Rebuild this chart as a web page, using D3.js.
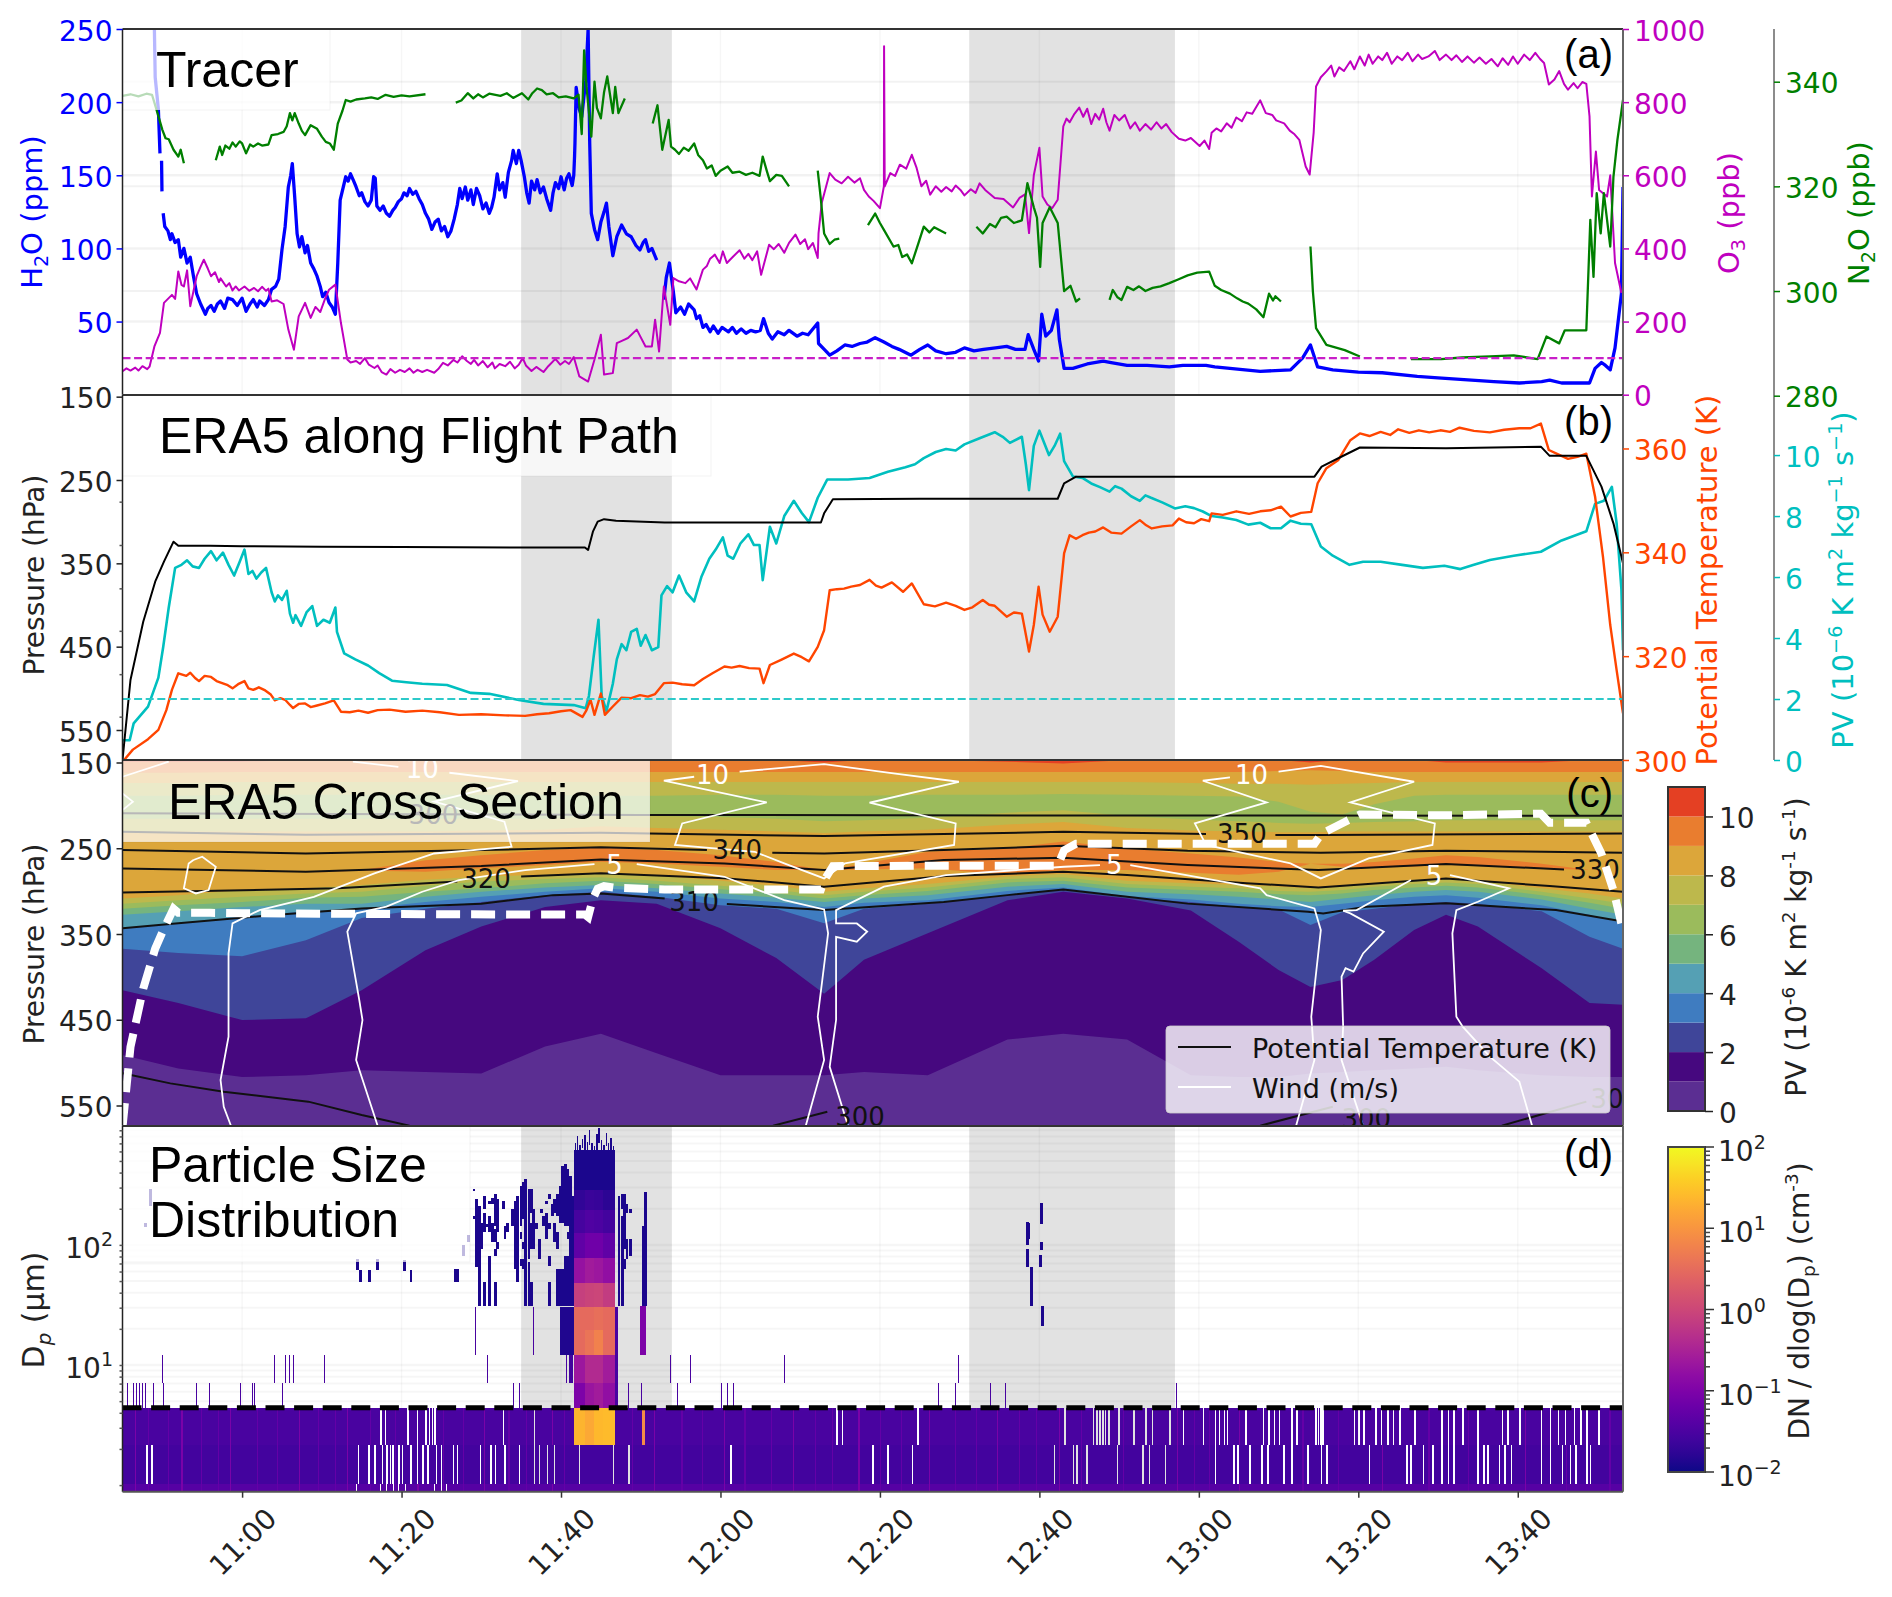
<!DOCTYPE html>
<html>
<head>
<meta charset="utf-8">
<script src="https://cdn.jsdelivr.net/npm/d3@7"></script>
<style>
  body { margin: 0; background: #fff; }
  text { font-family: "DejaVu Sans", sans-serif; }
  .title { font-family: "Liberation Sans", Arial, sans-serif; }
</style>
</head>
<body>
<div class="canvas"></div>
<script>
// time is minutes after 11:00
const xTicks = [0, 20, 40, 60, 80, 100, 120, 140, 160];
const xTickLabels = ["11:00", "11:20", "11:40", "12:00", "12:20", "12:40", "13:00", "13:20", "13:40"];
const shadedSpans = [[35, 53.9], [91.2, 117]];

// panel (a)
const h2oSeries = [[-11,250],[-10.9,217],[-10.5,195],[-10.3,165],[-10.25,null],[-10.1,160],[-10.05,139],[-10,null],[-9.9,124],[-9.7,115],[-9.3,112],[-9,106],[-8.8,110],[-8.4,104],[-8,106],[-7.7,94],[-7.3,100],[-6.9,90],[-6.5,94],[-6.1,81],[-5.7,69],[-5.2,62],[-4.6,55],[-4.3,59],[-3.9,61],[-3.5,57],[-3.1,62],[-2.7,64],[-2.2,59],[-1.8,66],[-1.2,65],[-0.6,61],[0,66],[0.5,57],[1,62],[1.4,65],[1.9,60],[2.2,64],[2.8,61],[3.3,65],[3.7,72],[4.2,74],[4.6,79],[5,99],[5.4,115],[5.8,142],[6.1,150],[6.3,158],[6.6,135],[6.9,110],[7.2,101],[7.5,108],[7.9,97],[8.2,102],[8.6,90],[9,86],[9.4,81],[9.8,74],[10.1,67],[10.5,70],[10.9,63],[11.3,60],[11.7,55],[12,90],[12.3,133],[13,149],[13.3,146],[13.6,151],[14,146],[14.3,142],[14.7,136],[15,138],[15.4,132],[15.8,129],[16.2,133],[16.5,149],[16.7,148],[16.9,129],[17.3,126],[17.7,129],[18.1,124],[18.5,122],[18.9,126],[19.2,128],[19.6,132],[20,134],[20.3,138],[20.7,136],[21,141],[21.4,137],[21.8,139],[22.2,134],[22.6,130],[23,124],[23.4,120],[23.8,113],[24.2,118],[24.6,120],[25,112],[25.4,115],[25.8,108],[26.2,112],[26.6,120],[27,130],[27.3,141],[27.6,134],[28,142],[28.3,133],[28.7,140],[29,130],[29.4,141],[29.8,136],[30.2,127],[30.6,131],[31,124],[31.3,128],[31.6,135],[32,151],[32.3,140],[32.7,145],[33,135],[33.4,152],[33.8,160],[34,167],[34.4,158],[34.7,167],[35,160],[35.4,149],[35.7,138],[36,131],[36.3,146],[36.7,140],[37,147],[37.4,138],[37.8,142],[38.2,134],[38.7,126],[39,138],[39.3,145],[39.7,141],[40,149],[40.4,140],[40.7,148],[41,151],[41.4,143],[41.6,150],[41.7,163],[41.75,172],[41.9,210],[42.3,195],[42.6,190],[43.1,215],[43.4,250],[43.6,172],[43.8,124],[44.2,113],[44.6,106],[45,118],[45.4,125],[45.7,131],[46,115],[46.5,95],[47,108],[47.6,116],[48.2,110],[48.8,108],[49.4,102],[49.9,99],[50.3,104],[50.6,106],[51,98],[51.4,100],[52,92],[52.3,null],[52.9,65],[53.2,80],[53.6,90],[54.1,70],[54.4,56],[55,60],[55.5,55],[56,62],[56.7,58],[57,52],[57.4,54],[57.8,46],[58.2,48],[58.7,43],[59.1,47],[59.7,42],[60.2,46],[61,43],[61.5,46],[62,42],[62.6,45],[63.2,42],[63.8,44],[64.4,43],[65,44],[65.4,52],[66,42],[66.5,38],[67.2,43],[68,41],[68.6,44],[69.6,40],[70.3,42],[71,41],[72.2,49],[72.3,35],[73.2,30],[73.7,27],[74.6,30],[75.6,34],[76.5,33],[77.5,35],[78.4,36],[79.4,39],[80.5,36],[81.5,33],[82.4,31],[83.9,27],[85,31],[86,34],[87,30],[88.3,28],[89.5,29],[90.6,32],[91.8,30],[93,31],[94.5,32],[95.9,33],[97,31],[98.2,31],[98.6,41],[99.3,31],[99.9,23],[100.3,55],[100.8,40],[101.5,44],[102.2,58],[102.5,38],[103.1,18],[104.2,18],[106,21],[108,23],[109,22],[111,20],[113.5,20],[116.3,19],[118,20],[120.9,20],[122,19],[123.9,18],[127.7,16],[131.5,17],[133,25],[134,34],[134.9,19],[136.8,17],[140,15.5],[143,15],[147.4,12.5],[150,11.5],[154.2,10],[157,9],[160.2,8],[163,9],[164,10],[165.5,8],[169,8],[169.7,18],[170.5,22],[171,20],[171.6,17],[172.2,32],[173,69],[173.2,142]];
const o3Series = [[-15,64],[-14.5,72],[-14,66],[-13.4,74],[-13,66],[-12.5,78],[-11.9,70],[-11.6,77],[-11,132],[-10.3,169],[-9.8,251],[-8.8,273],[-8.4,262],[-8,337],[-7.6,300],[-7.3,296],[-6.9,340],[-6.5,242],[-5.7,324],[-5.2,350],[-4.8,369],[-4.3,345],[-3.9,324],[-3.4,335],[-2.9,308],[-2.7,318],[-2,296],[-1.6,305],[-1.2,285],[-0.8,296],[-0.4,285],[0.3,296],[0.9,284],[1.5,292],[2,283],[2.5,295],[3,284],[3.3,290],[3.7,255],[4.4,258],[5.2,248],[5.8,178],[6.5,123],[7.1,214],[7.9,251],[8.6,210],[9.2,240],[9.8,226],[10.4,262],[10.9,287],[11.7,301],[12.4,196],[13.2,96],[13.6,88],[14.3,92],[14.8,84],[15.4,100],[15.9,82],[16.6,73],[17,80],[17.5,62],[18.1,55],[18.6,70],[19.2,60],[19.8,68],[20.4,62],[21,72],[21.5,60],[22,68],[22.6,62],[23.2,68],[24.1,60],[24.6,70],[25.2,87],[25.8,80],[26.5,95],[27,88],[27.6,105],[28.2,92],[28.7,84],[29.1,95],[29.6,80],[30.2,92],[30.8,75],[31.4,88],[31.7,72],[32.3,84],[33,78],[33.6,90],[34.2,72],[34.7,82],[35.2,100],[35.6,80],[36.3,65],[36.9,76],[37.8,62],[38.4,78],[39.3,98],[39.9,82],[40.5,92],[41,84],[41.6,103],[42.3,50],[43.4,36],[44.2,96],[45,164],[45.4,55],[46.5,59],[47,141],[47.7,148],[48.4,155],[49.5,178],[50.6,132],[51.4,132],[51.8,205],[52.3,118],[52.9,296],[53.7,191],[54.1,319],[54.8,310],[55.6,305],[56.2,318],[57,288],[57.8,342],[58.3,352],[58.7,372],[59.3,383],[59.9,360],[60.3,392],[60.8,360],[61.6,378],[62.4,395],[63,372],[63.5,385],[64,368],[64.6,392],[65.1,328],[66.1,410],[66.7,398],[67.3,412],[68,388],[68.6,415],[69.4,438],[70,412],[70.6,425],[71,398],[71.6,415],[72.2,374],[72.3,442],[72.7,524],[73.7,606],[74.4,588],[75.2,578],[76,596],[76.8,580],[77.5,592],[78,560],[78.6,542],[79.2,530],[80,510],[80.5,570],[80.52,953],[80.6,570],[81.3,606],[81.9,598],[82.5,629],[83.3,618],[84,656],[84.6,620],[85.2,570],[85.8,585],[86.3,547],[87,570],[87.7,555],[88.3,568],[89,556],[89.5,572],[90.1,560],[90.6,545],[91.4,562],[92,552],[92.5,578],[93.2,560],[94.4,538],[95.5,535],[96.7,512],[97.5,538],[98.2,548],[98.7,442],[99.3,600],[100,675],[100.4,542],[101,520],[101.6,510],[102.3,533],[103,734],[103.4,755],[103.8,745],[104.4,768],[105,785],[105.5,760],[106,782],[106.5,740],[107,768],[107.5,752],[108,782],[108.4,745],[108.8,722],[109.4,765],[110,750],[110.7,765],[111.4,728],[112,745],[112.6,722],[113.3,740],[114,725],[114.7,745],[115.3,728],[115.9,740],[116.6,718],[117.5,700],[118.3,695],[119,702],[120.1,680],[120.7,695],[121.3,672],[121.6,716],[122.2,728],[122.8,720],[123.5,742],[124.1,730],[124.7,758],[125.4,748],[126,772],[126.7,768],[127.7,805],[128.4,770],[129.2,765],[129.7,750],[130.7,742],[131.4,722],[132,712],[132.6,697],[133.4,624],[133.9,602],[134.4,716],[134.7,843],[135.3,868],[136,884],[136.6,900],[137,870],[137.6,895],[138.2,885],[139,912],[139.5,890],[140.2,925],[140.8,900],[141.3,930],[141.8,905],[142.5,925],[143,915],[143.6,935],[144.2,905],[144.9,925],[145.5,915],[146.2,935],[146.8,912],[147.5,930],[148,918],[148.8,925],[149.6,940],[150.2,915],[151,930],[151.7,915],[152.3,928],[153,910],[153.7,925],[154.5,908],[155.2,922],[156,905],[156.7,918],[157.5,898],[158.1,920],[158.8,902],[159.4,925],[160,905],[160.8,930],[161.5,915],[162.2,935],[162.8,918],[163.3,907],[163.9,848],[164.6,862],[165.2,885],[165.8,850],[166.3,834],[167,852],[167.5,838],[168.1,855],[168.6,850],[169,761],[169.3,542],[169.8,665],[170.2,560],[171.2,542],[171.6,600],[172.2,360],[173,278]];
const n2oSeries = [[-15,337.3],[-14,337.6],[-13,337.2],[-12,337.7],[-11.3,337.5],[-10.8,335],[-10,330.8],[-9.6,329.2],[-9.2,329],[-8.6,327],[-8,325.7],[-7.7,327],[-7.3,324.4],[-7.2,null],[-3.3,325],[-2.8,327.6],[-2.5,326],[-2.1,327.8],[-1.6,327.2],[-1.2,328.4],[-0.8,327.6],[-0.3,328.6],[0,328.2],[0.5,326.3],[1,328],[1.4,327.6],[2,328.2],[2.5,327.8],[3.3,328],[3.7,329.8],[4.5,330],[5.2,330.4],[5.6,331.5],[6,334],[6.3,332.6],[6.6,334],[7.1,332],[7.5,330.6],[7.9,329.8],[8.6,331.7],[9.4,331],[10,329.5],[10.5,328.5],[11,328.2],[11.5,327],[12,332],[12.6,334.5],[13,336.5],[13.6,336.2],[14.3,336.6],[15.4,336.8],[16.2,337],[17,336.7],[18,337.5],[19,337.1],[20,337.4],[21,337.2],[23,337.6],[23.1,null],[26.8,336],[27.5,336.4],[28.3,337.8],[29,336.8],[29.6,337.6],[30.2,337],[31,337.7],[32.4,337.3],[33.2,337.8],[34,336.9],[35.1,337.8],[35.9,336.6],[36.4,337.8],[37,338.7],[37.6,338.4],[38.2,337.6],[39,337.8],[39.7,337],[40.6,337.2],[41.6,336.8],[42.2,337.5],[42.6,330],[42.9,346],[43.2,339],[43.8,329.5],[44.2,340],[44.5,335],[45,333],[45.4,338],[45.8,341],[46.5,334],[46.8,339],[47.2,334],[48,336.8],[48.1,null],[51.5,332],[52.1,335.5],[52.7,327],[53.5,332.7],[53.8,327.6],[54.3,327],[54.8,326.2],[55.4,327.4],[56,326.8],[56.7,328.2],[57.2,326],[57.8,325],[58.3,323.4],[58.9,324],[59.4,322],[60,323],[60.9,323.8],[61.5,322.6],[62.4,322.8],[63.2,322.2],[64,322.6],[64.9,322],[65.3,325.7],[65.8,323],[66.2,321],[67,322.2],[67.7,322],[68.6,320],[68.7,null],[72.2,323],[72.6,317.4],[73,311],[73.7,309],[74.3,309.8],[74.9,310],[75,null],[78.5,312.6],[79.4,314.8],[80,313],[80.5,311.7],[81.7,308.5],[82.3,308.8],[82.8,306.5],[83.4,307],[84,305.3],[84.8,309],[85.5,312.3],[86.2,311.2],[86.8,312.2],[88.3,311],[88.4,null],[92.1,312.3],[92.9,311],[93.8,312.8],[94.5,312.2],[95.2,314],[95.9,314.2],[96.8,313],[97.8,313.5],[98.5,320.6],[99.3,316],[99.7,314],[100.1,304.6],[100.4,313],[101.3,316],[102.3,313],[103.1,300],[103.9,301],[104.6,298],[105.1,298.6],[105.2,null],[108.8,298.3],[109.2,300.2],[109.8,298.8],[110.3,298.3],[111,300.8],[111.8,300.2],[112.5,300.9],[113.3,300],[114.2,300.6],[115.2,300.9],[116.3,301.5],[117.4,302.2],[118.6,303],[119.8,303.5],[121.3,303.7],[122,301],[122.8,300.2],[123.9,299.5],[124.8,298.6],[125.5,298],[126.2,297.6],[127.2,296.5],[128.1,295],[128.8,299.5],[129.3,298.2],[129.6,299],[130.3,298],[130.4,null],[134,308.5],[134.3,300],[134.7,292.9],[136,289.7],[138.3,288.7],[140.2,287.5],[140.3,null],[146.6,287],[150.4,287],[153,287.3],[156.5,287.5],[159.5,287.7],[162.5,287],[163.6,291.3],[165.2,290],[165.9,292.5],[168.6,292.5],[169.1,313.6],[169.5,302.7],[169.9,318.7],[170.4,311],[170.8,318.7],[171.6,308.5],[172,321.8],[172.5,328.9],[173.2,336.5]];
const o3Reference = 100;

// panel (b)
const pressureSeries = [[-15,586],[-14,490],[-12.4,420],[-10.9,372],[-9.8,348],[-8.6,324],[-8,329],[-4,329],[0,329.5],[10,330],[20,330.5],[35,331],[43,331],[43.4,334],[44,312],[44.6,300],[45.4,297],[46.9,299],[53,301],[65,301],[72.6,301],[73,290],[74.1,273],[85,272.5],[102.3,272.5],[103.1,254],[104.6,246],[134.5,246],[135.4,234],[138.3,220],[140.2,211],[151,212],[162.9,210],[164,221],[168.6,221],[170.5,258],[172,302],[173.2,350]];
const thetaSeries = [[-14.8,300],[-13.7,302],[-11.8,304],[-10.5,305.8],[-9.5,309.6],[-8.8,313.5],[-8,316.7],[-7,316.2],[-6.5,316.8],[-5.9,315.8],[-5.4,315.2],[-4.7,316.2],[-3.9,316],[-3.2,315.2],[-2.5,314.8],[-1.8,314.4],[-1.2,313.8],[-0.5,314.6],[0.3,315.2],[0.8,313.8],[1.4,313.5],[2.1,314],[2.9,313.4],[3.6,312.6],[4.1,311.5],[4.8,311.9],[5.4,311.6],[6,310.6],[6.4,310],[7.1,310.8],[7.9,310.9],[8.6,310.2],[9.4,310.5],[10.4,310.9],[11.5,311.5],[12.4,309.3],[13.5,309.2],[14.6,309.5],[15.8,309.1],[17,309.6],[18.5,309.7],[20.5,309.3],[22.6,309.5],[24.8,309.2],[27.2,308.7],[30,308.8],[33,308.6],[35.5,308.5],[37,308.8],[38.5,309],[40,309.4],[41.2,309.6],[42.7,308.3],[43.2,309.6],[43.7,311.6],[44.2,308.7],[45,312.8],[45.5,308.7],[46.5,310.3],[47.6,312],[48.8,311.9],[49.9,312.5],[50.9,312.2],[51.8,312.7],[52.9,314.8],[54,314.9],[55.2,314.6],[56.7,314.4],[57.8,315.6],[59,316.7],[60.5,318],[61.4,317.8],[62.4,318.1],[63.6,317.7],[64.9,317.6],[65.4,314.8],[66.2,318.3],[67.6,319.3],[69.2,320.5],[70.2,319.8],[71.1,319],[72.2,321.8],[73,325],[73.7,332.7],[74.6,332.9],[75.5,333],[76.4,333.4],[77.5,333.7],[78.7,334.7],[79.5,333.6],[80.2,333.2],[81.5,334.2],[82.9,332.4],[84,334],[85.5,330],[86.9,329.6],[88.3,330.3],[89.5,329.7],[90.6,328.9],[91.6,329.4],[92.9,330.8],[93.7,329.9],[94.4,329.7],[95.9,327.6],[96.8,328.4],[97.8,328.2],[98.2,325],[98.7,320.9],[99.3,326],[99.9,333.4],[100.4,328],[101.3,324.7],[102.3,327.6],[103.1,339.8],[103.8,343.3],[104.6,342.6],[105.4,343.3],[106.2,343.8],[107,344],[108,344.8],[109,343.8],[110.3,343.6],[111.5,345],[112.6,346.2],[113.4,345.2],[114.1,344.6],[115.4,345],[116.7,345.2],[117.5,346.5],[118.4,345.8],[119.4,345.6],[120.3,346.4],[121.3,346],[121.6,347.5],[123,347.2],[124.7,347.9],[126.3,347.4],[127.7,347.9],[129,348.1],[130.3,348.8],[131.5,346.9],[132.8,347.6],[134.1,347.8],[134.9,353.3],[136,356.2],[137.5,357.8],[139,361.6],[140.2,362.9],[141.4,362.4],[142.8,363.2],[144,362.6],[145,363.7],[146.4,363],[147.6,363.5],[148.9,363.1],[150.3,363.5],[151.5,363.2],[152.7,364],[154.5,363.4],[156.5,363.1],[158.3,363.6],[160.2,363.9],[161.6,363.9],[162.9,364.8],[163.9,359.7],[165,358.9],[166.3,358],[167.5,358.4],[168.6,359],[169.7,350.7],[170.7,339],[171.6,326],[172.4,317.3],[173.2,309]];
const pvSeries = [[-15,0.65],[-14.1,0.65],[-13.6,1.2],[-11.8,1.75],[-10.5,2.7],[-9.9,3.7],[-9.2,5],[-8.4,6.3],[-7.6,6.4],[-6.9,6.55],[-6.2,6.35],[-5.4,6.3],[-4.7,6.6],[-3.9,6.85],[-3.2,6.55],[-2.4,6.8],[-1.7,6.4],[-1,6.05],[-0.3,6.5],[0.3,6.9],[0.8,6.1],[1.3,6.2],[1.8,5.95],[2.4,6.15],[3,6.3],[3.7,5.5],[4.1,5.2],[4.5,5.4],[5,5.25],[5.6,5.55],[6,4.8],[6.4,4.5],[6.7,4.75],[7.4,4.4],[8.1,4.85],[8.8,5.05],[9.4,4.4],[10.2,4.6],[11,4.5],[11.7,5],[11.9,4.2],[12.8,3.5],[14.2,3.3],[15.8,3.1],[17.2,2.85],[18.8,2.6],[20.6,2.55],[22.6,2.5],[25.7,2.46],[28.7,2.2],[31,2.17],[34.7,1.97],[37.8,1.84],[41.6,1.8],[43.1,1.7],[43.5,2.1],[44.1,3.4],[44.7,4.6],[45.1,2.1],[45.7,1.6],[46.5,2.5],[47,3.3],[47.6,3.8],[48.2,3.6],[48.8,4.2],[49.5,4.3],[50,3.75],[50.6,4.1],[51.4,3.6],[52.2,3.7],[52.6,5.4],[53.3,5.7],[54,5.5],[54.8,6.05],[55.7,5.5],[56.7,5.2],[57.6,6],[58.6,6.6],[59.4,6.9],[60.3,7.3],[60.9,6.7],[61.6,6.6],[62.5,7.1],[63.5,7.4],[64.2,7.05],[64.9,7.05],[65.3,5.9],[66.2,7.65],[67,7.1],[68,8],[69.2,8.5],[70.2,8.1],[71.1,7.8],[72.2,8.6],[73.4,9.2],[76,9.2],[78.7,9.25],[81,9.45],[83.2,9.6],[84.4,9.7],[85.5,9.9],[87,10.1],[88.3,10.2],[89.5,10.15],[90.6,10.35],[92.5,10.55],[94.4,10.75],[95.4,10.6],[96.3,10.4],[97.8,10.6],[98.3,9.7],[98.7,8.85],[99.3,10.3],[100,10.8],[101.2,10],[101.9,10.3],[102.6,10.7],[103.1,9.8],[104.2,9.3],[105.4,9.25],[106.5,9.07],[107.6,8.95],[108.8,8.8],[109.5,8.98],[110.3,8.9],[111.5,8.65],[112.6,8.5],[113.3,8.68],[114,8.6],[115.4,8.45],[117,8.25],[118.3,8.32],[119.4,8.26],[120.5,8.15],[121.6,8],[123,7.95],[124.7,7.87],[126.2,7.72],[127.7,7.78],[129,7.6],[130.3,7.6],[131.5,7.85],[132.8,7.75],[134.1,7.73],[135.3,7],[136.8,6.7],[138.9,6.4],[140.6,6.5],[142.8,6.5],[145.5,6.4],[148.1,6.3],[150.8,6.37],[152.8,6.26],[154.5,6.4],[156.5,6.56],[159.5,6.7],[162.9,6.83],[165.5,7.2],[168.6,7.5],[169.7,8.4],[170.8,8.5],[171.8,8.96],[172.4,7.76],[173,5.6],[173.2,3.6]];
const pvReference = 2;
const pressureLabels = [150, 250, 350, 450, 550];
const pressureMinorB = [276, 328, 380, 431, 483, 534];

// panel (c), filled PV bands, hPa of each band edge at these times
const sectionTimes = [-15,-8,0,8,15,23,30,38,45,52,60,67,73,78,86,96,103,111,119,125,130,134,138,142,147,151,155,163,169,173.2];
const pvColors = ["#5b2e92","#46087f","#3f4599","#3f7cc0","#55a0b4","#75b47e","#9bbb5c","#bdb84c","#dca63a","#e97d2f","#e44023"];
const edgeRed = [146,146,146,144,144,144,144,144,144,144,144,144,147,144,144,146,148,144,144,144,144,147,144,144,144,147,147,147,144,144];
const edgeOrange = [159,159,158,158,158,158,158,158,158,158,158,158,158,158,158,158,158,158,158,158,157,156,157,158,158,158,158,158,158,158];
const edgeGold = [171,171,170,170,170,170,170,170,170,170,170,170,170,170,170,170,170,170,171,172,172,173,172,171,170,170,170,170,170,170];
const edgeOlive = [186,186,185,185,185,185,185,185,186,186,185,185,186,186,185,185,184,185,186,187,193,205,208,196,186,185,185,185,185,185];
const edgeGreen = [213,213,213,213,213,213,213,213,210,210,211,213,216,215,212,206,203,210,214,216,218,219,218,217,216,215,215,215,215,215];
const edgeOlive2 = [228,228,228,228,228,228,227,226,222,224,226,228,230,228,226,220,217,224,227,228,229,229,228,228,228,228,228,228,228,228];
const lensTop = [277,277,277,277,273.5,262,256,250,247,250,256,264,273.5,266,252,248,240,248,254,258.6,264,266,266,264,260,256,258,266,273.5,273.5];
const lensBottom = [277,277,277,277,274,275.5,271.5,267.6,263.7,265.7,269.6,273.5,273.5,272.7,271.5,279,273.5,273.5,276.6,279,275.5,266,269.6,270.4,269.6,267.6,268.8,271.5,273.5,273.5];
const edge8 = [307,303,297,295,291,285,281,279,277,280,286,292,299,295,290,281,278,286,289,291,293,295,293,289,285,284,286,295,301,307];
const edge7 = [313,309,305,301,299,292,287,284,282,286,292,297,303,299,294,284,282,290,293,295,298,299,297,293,290,288,290,299,307,313];
const edge6 = [319,315,311,306,305,299,295,289,286,290,296,301,307,303,298,288,286,294,297,299,302,303,301,297,294,292,294,303,312,319];
const edge5 = [326,322,317,313,313,305,299,294,291,295,301,306,311,307,303,293,290,299,302,305,308,311,307,303,299,297,299,308,319,326];
const edge4 = [342,336,328,322,319,311,305,299,295,299,307,311,317,312,309,298,294,304,308,313,316,317,313,309,305,303,306,315,326,336];
const edge3 = [366,371,375,356,330,319,311,303,299,305,315,319,336,319,313,303,297,306,311,317,320,338,323,319,313,311,313,322,352,366];
const edge2 = [415,430,450,448,415,368,340,317,309,313,342,377,419,379,348,309,299,307,321,358,391,411,403,379,344,326,340,389,430,432];
const edge1 = [491,507,517,515,509,511,513,481,466,489,515,515,515,511,515,473,466,473,515,517,517,513,511,509,507,505,509,515,517,517];
// bands painted top down: [edge, PV level of what lies below it]
const bandOrder = [[edgeRed,9],[edgeOrange,8],[edgeGold,7],[edgeOlive,6],[edgeGreen,7],[edgeOlive2,8],[edge8,7],[edge7,6],[edge6,5],[edge5,4],[edge4,3],[edge3,2],[edge2,1],[edge1,0]];

const thetaContours = [
  [[-15,342],[-8,336],[4,326.5],[15,318.6],[30,313],[39,303],[45,301],[53,307],[53.6,null],[60.8,313.5],[73,320.6],[88,311],[96,303],[103,296.3],[111,305],[118.6,313],[133.7,322.5],[135.6,324.5],[141,316.6],[151,312.7],[164.8,320.6],[173.2,334]],
  [[-15,299.8],[12,295],[27,287],[27.5,null],[35,281],[45,277.4],[60.5,283],[73,293],[88.3,280.6],[103,275.5],[111,279.4],[126,289],[135,293.9],[151,283.3],[164,292.3],[173.2,299]],
  [[-15,271.6],[8,275.5],[30,268.8],[45,261],[60.5,265.7],[73,273.5],[88,261.7],[103,259],[118.6,267.6],[135,273.5],[151,266.4],[165.8,272.7]],
  [[-15,250],[8,254],[30,250],[45,246.8],[58.3,250],[58.5,null],[66.5,253],[73,254],[88,250],[103,245],[118.6,250.8],[135.3,253],[151,250.8],[173.2,253]],
  [[-15,228.4],[8,232],[45,229.6],[73,233.5],[88,231.2],[103,228.4],[120.9,231.2],[121,null],[129.6,232.3],[135.3,232.3],[173.2,230.4]],
  [[-15,206.8],[50,208.7],[100,209.2],[173.2,209.6]],
  [[-15,512.7],[-9,524.5],[-2.3,534.3],[8.3,546],[15,561.8],[21,574.3]],
  [[66.6,574.3],[73.4,557.8]],
  [[127.7,574.3],[136.8,552]],
  [[158,574.3],[168.6,546]]
];
const windContours = [
  [[-15,163.7],[-9.2,146]],
  [[13.9,146],[19.6,152]],
  [[26,159],[34.6,168.8],[24.1,193],[32.9,216.6],[33.8,246],[24.1,254],[16.6,277.4],[9,305],[2.2,320.6],[-1.2,336.2],[-1.7,371.6],[-1.7,469.6],[-2.7,520.6],[-2.3,552],[-1.4,574.3]],
  [[-15,183.3],[-13.7,193],[-15,203]],
  [[-6.1,261.7],[-5,257.8],[-3.3,269.6],[-4.2,297],[-5.8,301],[-7.3,295],[-6.7,265.7],[-6.1,261.7]],
  [[62.4,157.8],[73,148.8],[81.7,159.8],[89.9,169.6],[78.7,194.3],[89.5,218.6],[89.3,244],[75.6,265.7],[73,283.3],[68,265.7],[64.3,252],[54.3,244],[55.2,218.6],[65.8,193.9],[52.9,168.4],[56.7,163.7]],
  [[70.7,574.3],[73,497],[72.2,446],[73.5,348],[73,319.8],[68,308.8],[60.5,281.4],[49.5,266.5]],
  [[44.2,266.5],[35.5,273.5],[27.2,285.3],[22.6,299],[18.1,316.6],[14.3,324.5],[13.2,346],[14.7,426.5],[15.1,450],[14.3,497],[17,574.3]],
  [[132.2,574.3],[134.5,497],[134.1,446],[135.3,344],[134.5,318.6],[128.5,303],[127.7,295],[111.4,267.6]],
  [[107.6,267.6],[103.1,269.6],[88.3,279.4],[80.5,293],[74.5,320.6],[74.5,336.3],[77.1,336.3],[78.4,346],[77.1,357.8],[74.5,352],[74.5,450],[73.7,505],[76,574.3]],
  [[138.1,321.4],[139.8,320.6],[146.6,285.3]],
  [[151.5,279.4],[158.9,295],[155,310.8],[152.3,320.6],[151.8,348],[152.3,446],[153.1,457.8],[156.5,493],[160.2,522.5],[161.8,574.3]],
  [[138.1,321.4],[139,324.5],[143.2,346],[140.6,371.6],[139.4,393],[138.4,389],[137.9,399],[138.1,457.8],[137.9,497],[140.6,574.3]],
  [[130,157.8],[135.3,151],[147,169.6],[139,193.9],[149.6,218.6],[149.3,244],[141.3,259.8],[135.3,283.3],[131.5,265.7],[120.9,244],[119.5,218.6],[128.5,193.9],[120.5,168.4],[123.9,164.5]]
];
const windLabels = [[22.6,154,"10"],[59,161.7,"10"],[126.6,161.7,"10"],[46.7,267.6,"5"],[109.4,267.6,"5"],[149.5,280.6,"5"]];
const thetaLabels = [[56.7,310.8,"310"],[30.6,283.3,"320"],[62.1,250,"340"],[125.4,231.2,"350"],[169.7,272.7,"330"],[24,208.8,"300"],[77.5,563.7,"300"],[141,565.7,"300"],[171.2,542,"30"]];

// panel (d), size bin edges in um and counts
const sizeEdges = [0.881,1.03,2.15,4.35,7.03,12.1,19.6,30.6,47.9,77.4,125,195,287,620];
const dashedSize = 4.4;
const rowBase = [0.04,0.026,0.03];
const gapsRow0 = [14.3,17.3,18.1,18.9,19.6,20.4,21.5,24.1,24.9,25.6];
const gapsRow1 = [-12,-11.4,14.5,15.8,16.6,17.5,18.1,18.5,18.8,19.6,20,21.1,21.9,22.6,23.2,24.3,24.9,26.4,26.9,29.8,31.1,31.7,32.9,34.7,36.6,37.2,38.2,39.1,42.2,46.5,48.4,61.2,79,80.9,84,101.8,104.2,104.6,105.9,109.7,112.9,113.7,115.7,122,124.3,124.8,126.3,127.8,128.6,130.6,131.6,133.6,135.3,136,141.3,146,146.5,148.1,149.3,150.4,151.2,151.9,154.9,155.7,156.2,157.6,158.3,159.1,162.9,164,165.5,166.5,167.2,168.6,169];
const gapsRow2 = [17.3,17.9,20.7,21.9,23,23.4,23.8,24.1,32.7,36.6,74.5,75.2,84.7,103.1,106.7,107.1,107.5,107.9,108.2,108.6,109.9,111.8,113.3,114.1,116.3,118,120.5,122,122.5,123.1,123.5,125.8,128,128.7,129.4,130,131.6,132.2,134.6,134.9,135.2,135.5,139.4,140,140.6,142.1,142.8,143.6,144.3,145.1,147,150.4,151.2,151.9,153,154.9,158,158.7,160.2,162.9,164,165,165.9,167,167.8,168.6,170.1];
const purpleStreaks = [-13.4,-11.8,-9.3,-7.6,-5.2,-3,-1.5,1.9,4.4,7.1,9.5,11.6,13.2,16,19.2,22,25.2,27.7,30.3,33.4,35.6,38.9,40.4,48.9,51.7,55.1,57.7,60.4,63,66.3,69.1,71.9,74,77.3,80,82.6,86.2,89.4,92,94.7,97.4,99.6,102.5,105.2,110.5,117.2,119.4,121.3,125,133,137.5,143,148.8,153.7,160.9,166,171.5];
const sparseRow3 = [-14.4,-13.7,-13.3,-12.9,-12.5,-12.2,-11.2,-9.9,-5.8,-4.1,-0.3,1.3,1.5,2.7,5,23.4,34,34.7,48.4,50,54.6,60.1,60.8,61.6,87.3,89.4,93.8,95.7,117.1];
const sparseRow4 = [-10,4,5.4,5.9,6.4,10.3,30.7,40.6,41,53.7,56.2,68,72.8,89.8];
const sparseRow5 = [29.2,36.5,40.2,40.5,49.9];
const cloudTimes = [41.6,43,44.2,45.3,46.8];
const cloudRow2 = [22,16,24,26];
const cloudRows = [
  [0.1,0.2,0.25,0.16],
  [0.22,0.4,0.4,0.25],
  [3,4,6,3],
  [3,3,3.5,3],
  [0.8,0.9,1,0.7],
  [0.18,0.25,0.22,0.16],
  [0.05,0.07,0.07,0.05],
  [0.028,0.035,0.032,0.026],
  [0.018,0.022,0.02,0.016],
  [0.012,0.012,0.012,0.012]
];
// single dark columns: [time, lower size, upper size]
const sparseColumns = [[28.9,282,291],[28.9,164,175],[29.2,65,240],[29.6,31,211],[29.9,92,153],[30.2,199,256],[30.2,127,186],[30.2,31,49],[30.6,140,150],[30.9,31,81],[30.9,127,175],[30.9,218,233],[31.2,105,153],[31.2,218,248],[31.6,81,92],[31.6,105,135],[31.6,31,49],[31.6,144,265],[31.9,92,105],[31.9,127,240],[32.6,199,233],[32.8,112,144],[33.1,127,153],[33.7,144,199],[34.1,63,233],[34.4,49,256],[34.8,144,310],[34.8,112,127],[34.8,67,76],[35.1,164,331],[35.1,92,105],[35.1,63,76],[35.4,31,353],[35.8,76,291],[35.8,31,72],[36.1,92,153],[36.1,186,291],[36.1,31,49],[36.4,92,199],[36.8,135,153],[37.1,76,112],[37.4,186,199],[37.6,144,175],[38,112,186],[38,218,233],[38.4,135,153],[38.4,67,81],[38.4,31,49],[38.4,240,265],[38.7,175,218],[39,105,153],[39,186,240],[39.4,92,127],[39.4,175,265],[39.4,31,63],[39.7,31,63],[39.7,153,310],[40,31,63],[40,153,456],[40.4,31,81],[40.4,144,470],[40.7,31,81],[40.7,112,127],[40.7,144,428],[41,31,376],[41.4,31,256],[47.1,31,256],[47.5,31,175],[47.5,199,265],[47.8,92,265],[47.8,63,76],[48.1,186,218],[48.1,76,112],[48.5,186,199],[48.5,81,112],[50.1,31,144],[50.4,31,275],[14.3,62,76],[15.8,49,62],[16.8,62,76],[14.7,49,62],[20.2,61,75],[21,49,62],[-11.7,210,290],[-12.3,140,152],[26.6,49,63],[26.9,49,63],[27.6,81,100],[28.2,105,120],[98.3,100,154],[98.5,112,153],[98.3,65,92],[100,65,82],[100.1,150,225],[100.1,90,105],[98.8,31,65],[100.2,21,31]];
const topColumns = [[41.7,620,700],[42,620,800],[42.3,620,680],[42.6,640,760],[42.9,620,830],[43.2,620,720],[43.5,680,900],[43.8,620,700],[44.1,620,660],[44.4,620,840],[44.7,700,940],[45,620,740],[45.3,620,680],[45.6,660,860],[45.9,620,700],[46.2,620,780],[46.5,620,660]];
const colorTicksLog = [-2, -1, 0, 1, 2];

// geometry of the page
const width = 1892, height = 1597;
const left = 122.5, right = 1623, outerAxisX = 1774;
const panelA = [29, 394.7], panelB = [395, 760], panelC = [760, 1125.7], panelD = [1126, 1491.7];

const svg = d3.select(".canvas").append("svg").attr("width", width).attr("height", height);
const defs = svg.append("defs");
[["clipA", panelA], ["clipB", panelB], ["clipC", panelC], ["clipD", panelD]].forEach(function(c) {
  defs.append("clipPath").attr("id", c[0]).append("rect")
    .attr("x", left).attr("y", c[1][0]).attr("width", right - left).attr("height", c[1][1] - c[1][0]);
});

const x = d3.scaleLinear().domain([-15, 173.2]).range([left, right]);
const yH2o = d3.scaleLinear().domain([0, 250]).range([panelA[1], panelA[0]]);
const yO3 = d3.scaleLinear().domain([0, 1000]).range([panelA[1], panelA[0]]);
const yN2o = d3.scaleLinear().domain([280, 340]).range([395.7, 81.7]);
const yPressB = d3.scaleLinear().domain([148, 586]).range(panelB);
const yTheta = d3.scaleLinear().domain([300, 370.3]).range([panelB[1], panelB[0]]);
const yPv = d3.scaleLinear().domain([0, 11.97]).range([panelB[1], panelB[0]]);
const yPressC = d3.scaleLinear().domain([144, 574.3]).range(panelC);
const yPressCTicks = d3.scaleLinear().domain([150, 550]).range([762.5, 1105.5]);
const yFlight = d3.scaleLinear().domain([148, 586]).range([762, 1127]);
const ySize = d3.scaleLog().domain([0.881, 977]).range([panelD[1], panelD[0]]);
const dnColor = d3.scaleSequentialLog(d3.interpolatePlasma).domain([0.01, 100]);

function seriesLine(yScale) {
  return d3.line().defined(function(d) { return d[1] !== null; })
    .x(function(d) { return x(d[0]); }).y(function(d) { return yScale(d[1]); });
}

function drawAxis(gen, xpos, color) {
  const g = svg.append("g").attr("transform", "translate(" + xpos + ",0)").call(gen);
  g.select(".domain").remove();
  g.selectAll("text").attr("fill", color).attr("dy", "0.4em").style("font-size", "28px").style("font-family", "DejaVu Sans");
  g.selectAll("line").attr("stroke", color).attr("stroke-width", 1.5);
  return g;
}

// text with sub and superscript parts, turned to read upward
function richLabel(xpos, ypos, parts, color, size) {
  const t = svg.append("text").attr("transform", "translate(" + xpos + "," + ypos + ") rotate(-90)")
    .attr("text-anchor", "middle").attr("fill", color).style("font-size", size + "px");
  let shift = 0;
  parts.forEach(function(p) {
    const kind = p[1] || "";
    let target = 0;
    if (kind === "sub") target = size * 0.22;
    if (kind === "sup") target = -size * 0.38;
    t.append("tspan").attr("dy", target - shift)
      .style("font-size", (kind ? size * 0.66 : size) + "px").style("font-style", p[2] || "normal").text(p[0]);
    shift = target;
  });
}

function drawBands() {
  shadedSpans.forEach(function(s) {
    svg.append("rect").attr("x", x(s[0])).attr("width", x(s[1]) - x(s[0]))
      .attr("y", panelA[0]).attr("height", panelD[1] - panelA[0]).attr("fill", "#e2e2e2");
  });
}

function drawGrid() {
  const grid = svg.append("g").attr("stroke", "#000").attr("stroke-opacity", 0.05);
  [50, 100, 150, 200].forEach(function(v) {
    grid.append("line").attr("x1", left).attr("x2", right).attr("y1", yH2o(v)).attr("y2", yH2o(v)).attr("stroke-width", 2.5);
  });
  [300, 320, 340].forEach(function(v) {
    grid.append("line").attr("x1", left).attr("x2", right).attr("y1", yN2o(v)).attr("y2", yN2o(v)).attr("stroke-width", 2);
  });
  xTicks.forEach(function(v) {
    [panelA, panelD].forEach(function(p) {
      grid.append("line").attr("x1", x(v)).attr("x2", x(v)).attr("y1", p[0]).attr("y2", p[1]).attr("stroke-width", 1.5).attr("stroke-opacity", 0.035);
    });
  });
  d3.range(0, 3).forEach(function(dec) {
    d3.range(1, 10).forEach(function(m) {
      const v = m * Math.pow(10, dec);
      if (v < 4.4 || v > 977) return;
      grid.append("line").attr("x1", left).attr("x2", right).attr("y1", ySize(v)).attr("y2", ySize(v))
        .attr("stroke-width", m === 1 ? 2.5 : 2).attr("stroke-opacity", 0.035);
    });
  });
}

function drawPanelA() {
  const g = svg.append("g").attr("clip-path", "url(#clipA)").attr("fill", "none").attr("stroke-linejoin", "round");
  g.append("path").attr("d", seriesLine(yH2o)(h2oSeries)).attr("stroke", "#0000ff").attr("stroke-width", 3.3);
  g.append("path").attr("d", seriesLine(yO3)(o3Series)).attr("stroke", "#bf00bf").attr("stroke-width", 2);
  g.append("path").attr("d", seriesLine(yN2o)(n2oSeries)).attr("stroke", "#007f00").attr("stroke-width", 2.3);
  g.append("line").attr("x1", left).attr("x2", right).attr("y1", yO3(o3Reference)).attr("y2", yO3(o3Reference))
    .attr("stroke", "#c81fc8").attr("stroke-width", 2.1).attr("stroke-dasharray", "8 3.6");
}

function drawPanelB() {
  const g = svg.append("g").attr("clip-path", "url(#clipB)").attr("fill", "none").attr("stroke-linejoin", "round");
  g.append("path").attr("d", seriesLine(yPv)(pvSeries)).attr("stroke", "#00bfbf").attr("stroke-width", 2.6);
  g.append("path").attr("d", seriesLine(yTheta)(thetaSeries)).attr("stroke", "#ff4500").attr("stroke-width", 2.4);
  g.append("path").attr("d", seriesLine(yPressB)(pressureSeries)).attr("stroke", "#000").attr("stroke-width", 2);
  g.append("line").attr("x1", left).attr("x2", right).attr("y1", yPv(pvReference)).attr("y2", yPv(pvReference))
    .attr("stroke", "#2cc9c9").attr("stroke-width", 2.1).attr("stroke-dasharray", "8 3.6");
}

function drawPanelC() {
  const g = svg.append("g").attr("clip-path", "url(#clipC)");
  g.append("rect").attr("x", left).attr("y", panelC[0]).attr("width", right - left).attr("height", panelC[1] - panelC[0])
    .attr("fill", pvColors[10]);
  const area = d3.area().x(function(d) { return x(d[0]); }).y0(panelC[1]).y1(function(d) { return yPressC(d[1]); });
  bandOrder.forEach(function(b) {
    g.append("path").attr("d", area(sectionTimes.map(function(t, i) { return [t, b[0][i]]; })))
      .attr("fill", pvColors[b[1]]);
  });
  const lens = d3.area().x(function(d) { return x(d[0]); })
    .y0(function(d) { return yPressC(d[2]); }).y1(function(d) { return yPressC(d[1]); });
  g.append("path").attr("d", lens(sectionTimes.map(function(t, i) { return [t, lensTop[i], lensBottom[i]]; })))
    .attr("fill", pvColors[9]);

  const line = seriesLine(yPressC);
  thetaContours.forEach(function(c) {
    g.append("path").attr("d", line(c)).attr("fill", "none").attr("stroke", "#111").attr("stroke-width", 2);
  });
  windContours.forEach(function(c) {
    g.append("path").attr("d", line(c)).attr("fill", "none").attr("stroke", "#fff").attr("stroke-width", 1.8);
  });
  thetaLabels.forEach(function(l) {
    g.append("text").attr("x", x(l[0])).attr("y", yPressC(l[1])).attr("dy", "0.36em").attr("text-anchor", "middle")
      .attr("fill", "#111").style("font-size", "26px").text(l[2]);
  });
  windLabels.forEach(function(l) {
    g.append("text").attr("x", x(l[0])).attr("y", yPressC(l[1])).attr("dy", "0.36em").attr("text-anchor", "middle")
      .attr("fill", "#fff").style("font-size", "26px").text(l[2]);
  });
  g.append("path").attr("d", seriesLine(yFlight)(pressureSeries)).attr("fill", "none").attr("stroke", "#fff")
    .attr("stroke-width", 8).attr("stroke-dasharray", "24 11");
}

function addCell(g, t0, t1, d0, d1, value) {
  g.append("rect").attr("x", x(t0)).attr("width", Math.max(x(t1) - x(t0), 0.8))
    .attr("y", ySize(d1)).attr("height", ySize(d0) - ySize(d1)).attr("fill", dnColor(value));
}

function drawPanelD() {
  const g = svg.append("g").attr("clip-path", "url(#clipD)").attr("shape-rendering", "crispEdges");
  // the three lowest rows are nearly full, with empty columns cut out
  [gapsRow0, gapsRow1, gapsRow2].forEach(function(gaps, row) {
    let start = -15;
    const gapWidth = row === 0 ? 0.12 : 0.2;
    gaps.forEach(function(t) {
      addCell(g, start, t, sizeEdges[row], sizeEdges[row + 1], rowBase[row]);
      start = t + gapWidth;
    });
    addCell(g, start, 173.2, sizeEdges[row], sizeEdges[row + 1], rowBase[row]);
    purpleStreaks.forEach(function(t, i) {
      if (gaps.some(function(q) { return Math.abs(q - t) < 0.3; })) return;
      addCell(g, t, t + 0.14, sizeEdges[row], sizeEdges[row + 1], i % 3 === 0 ? 0.09 : 0.055);
    });
  });
  sparseRow3.forEach(function(t) { addCell(g, t, t + 0.1, sizeEdges[3], sizeEdges[4], 0.03); });
  sparseRow4.forEach(function(t) { addCell(g, t, t + 0.1, sizeEdges[4], sizeEdges[5], 0.03); });
  sparseRow5.forEach(function(t) { addCell(g, t, t + 0.1, sizeEdges[5], sizeEdges[7], 0.03); });
  sparseColumns.forEach(function(c) { addCell(g, c[0], c[0] + 0.36, c[1], c[2], 0.012); });
  topColumns.forEach(function(c) { addCell(g, c[0], c[0] + 0.18, c[1], c[2], 0.012); });
  // navy sides of the cloud in the mid rows
  addCell(g, 39.9, 41.6, 12.1, 30.6, 0.013);
  addCell(g, 41, 41.2, 7.03, 12.1, 0.025);
  addCell(g, 41.3, 41.5, 7.03, 12.1, 0.025);
  addCell(g, 46.8, 47.2, 4.35, 30.6, 0.03);
  addCell(g, 49.9, 50.6, 12.1, 31, 0.1);
  addCell(g, 50.1, 50.5, sizeEdges[2], sizeEdges[3], 8);
  cloudRows.forEach(function(vals, r) {
    vals.forEach(function(v, c) {
      addCell(g, cloudTimes[c], cloudTimes[c + 1], sizeEdges[r + 3], sizeEdges[r + 4], v);
    });
  });
  cloudRow2.forEach(function(v, c) {
    addCell(g, cloudTimes[c], cloudTimes[c + 1], sizeEdges[2], sizeEdges[3], v);
  });
  svg.append("line").attr("x1", left).attr("x2", right).attr("y1", ySize(dashedSize)).attr("y2", ySize(dashedSize))
    .attr("stroke", "#000").attr("stroke-width", 5).attr("stroke-dasharray", "19 9.6");
}

function drawTitleBoxes() {
  const boxes = [
    [left, panelA[0], 330, 110, 0.72],
    [left, panelB[0], 711, 476, 0.72],
    [left, panelC[0], 650, 842, 0.7],
    [left, panelD[0], 470, 1262, 0.72]
  ];
  boxes.forEach(function(b) {
    svg.append("rect").attr("x", b[0]).attr("y", b[1]).attr("width", b[2] - b[0]).attr("height", b[3] - b[1])
      .attr("fill", "#fff").attr("fill-opacity", b[4]).attr("stroke", "#000").attr("stroke-opacity", 0.05);
  });
  const titles = [["Tracer", 156, 87], ["ERA5 along Flight Path", 159, 453], ["ERA5 Cross Section", 168, 819],
    ["Particle Size", 149, 1182], ["Distribution", 149, 1237]];
  titles.forEach(function(t) {
    svg.append("text").attr("class", "title").attr("x", t[1]).attr("y", t[2]).attr("fill", "#000")
      .style("font-size", "50px").style("font-family", "Liberation Sans").text(t[0]);
  });
  [["(a)", 68], ["(b)", 435], ["(c)", 807], ["(d)", 1168]].forEach(function(t) {
    svg.append("text").attr("x", 1613).attr("y", t[1]).attr("text-anchor", "end").attr("fill", "#000")
      .style("font-size", "40px").style("font-family", "Liberation Sans").text(t[0]);
  });
}

function drawLegend() {
  svg.append("rect").attr("x", 1166).attr("y", 1026).attr("width", 444).attr("height", 87).attr("rx", 4)
    .attr("fill", "#fff").attr("fill-opacity", 0.8).attr("stroke", "#ccc").attr("stroke-opacity", 0.8);
  [["Potential Temperature (K)", "#111", 1047, 1058], ["Wind (m/s)", "#fff", 1087, 1098]].forEach(function(l) {
    svg.append("line").attr("x1", 1178).attr("x2", 1231).attr("y1", l[2]).attr("y2", l[2])
      .attr("stroke", l[1]).attr("stroke-width", 2);
    svg.append("text").attr("x", 1252).attr("y", l[3]).attr("fill", "#111").style("font-size", "27px").text(l[0]);
  });
}

function drawFrames() {
  [panelA, panelB, panelC, panelD].forEach(function(p) {
    svg.append("line").attr("x1", left).attr("x2", right).attr("y1", p[0]).attr("y2", p[0]).attr("stroke", "#333").attr("stroke-width", 2);
    svg.append("line").attr("x1", right).attr("x2", right).attr("y1", p[0]).attr("y2", p[1]).attr("stroke", "#666").attr("stroke-width", 2);
    svg.append("line").attr("x1", left).attr("x2", left).attr("y1", p[0]).attr("y2", p[1]).attr("stroke", "#222").attr("stroke-width", 1.5);
  });
  svg.append("line").attr("x1", left).attr("x2", right).attr("y1", panelD[1]).attr("y2", panelD[1]).attr("stroke", "#555").attr("stroke-width", 2);
  svg.append("line").attr("x1", outerAxisX).attr("x2", outerAxisX).attr("y1", panelA[0]).attr("y2", panelB[1]).attr("stroke", "#666").attr("stroke-width", 1.5);
}

function drawAxes() {
  const tick = 6, pad = 4;
  drawAxis(d3.axisLeft(yH2o).tickValues([50, 100, 150, 200, 250]).tickSize(tick).tickPadding(pad), left, "#0000ff");
  drawAxis(d3.axisRight(yO3).tickValues(d3.range(0, 1001, 200)).tickFormat(d3.format("d")).tickSize(tick).tickPadding(pad + 1), right, "#bf00bf");
  drawAxis(d3.axisRight(yN2o).tickValues([280, 300, 320, 340]).tickSize(tick).tickPadding(pad + 1), outerAxisX, "#007f00");
  drawAxis(d3.axisLeft(yPressB).tickValues(pressureLabels).tickSize(tick).tickPadding(pad), left, "#222");
  drawAxis(d3.axisLeft(yPressB).tickValues(pressureMinorB).tickFormat("").tickSize(3), left, "#555");
  drawAxis(d3.axisRight(yTheta).tickValues([300, 320, 340, 360]).tickSize(tick).tickPadding(pad + 1), right, "#ff4500");
  drawAxis(d3.axisRight(yPv).tickValues([0, 2, 4, 6, 8, 10]).tickSize(tick).tickPadding(pad + 1), outerAxisX, "#00bfbf");
  drawAxis(d3.axisLeft(yPressCTicks).tickValues(pressureLabels).tickSize(tick).tickPadding(pad), left, "#222");

  // size axis: decades labelled by hand as 10 with a power
  const minors = [];
  [0, 1, 2].forEach(function(d) { d3.range(1, 10).forEach(function(m) { minors.push(m * Math.pow(10, d)); }); });
  drawAxis(d3.axisLeft(ySize).tickValues(minors.filter(function(v) { return v > 0.9 && v < 977; })).tickFormat("").tickSize(3), left, "#555");
  [[10, "1"], [100, "2"]].forEach(function(l) {
    const t = svg.append("text").attr("x", 113).attr("y", ySize(l[0]) + 13).attr("text-anchor", "end").attr("fill", "#222").style("font-size", "28px");
    t.append("tspan").text("10");
    t.append("tspan").attr("dy", -12).style("font-size", "19px").text(l[1]);
  });

  const xAxis = d3.axisBottom(x).tickValues(xTicks).tickFormat(function(d, i) { return xTickLabels[i]; }).tickSize(6);
  const gx = svg.append("g").attr("transform", "translate(0," + panelD[1] + ")").call(xAxis);
  gx.select(".domain").remove();
  gx.selectAll("line").attr("stroke", "#333").attr("stroke-width", 1.5);
  gx.selectAll("text").attr("y", 0).attr("dy", "0.36em").attr("text-anchor", "middle")
    .attr("transform", "translate(0,50) rotate(-45)").attr("fill", "#222")
    .style("font-size", "28px").style("font-family", "DejaVu Sans");

  richLabel(42, 212, [["H"], ["2", "sub"], ["O (ppm)"]], "#0000ff", 29);
  richLabel(1739, 213, [["O"], ["3", "sub"], [" (ppb)"]], "#bf00bf", 29);
  richLabel(1869, 213, [["N"], ["2", "sub"], ["O (ppb)"]], "#007f00", 29);
  richLabel(44, 575, [["Pressure (hPa)"]], "#222", 28);
  richLabel(1717, 580, [["Potential Temperature (K)"]], "#ff4500", 29);
  richLabel(1853, 580, [["PV (10"], ["\u22126", "sup"], [" K m"], ["2", "sup"], [" kg"], ["\u22121", "sup"], [" s"], ["\u22121", "sup"], [")"]], "#00bfbf", 29);
  richLabel(44, 944, [["Pressure (hPa)"]], "#222", 28);
  richLabel(44, 1310, [["D"], ["p", "sub", "italic"], [" (\u03bcm)"]], "#222", 30);
}

function drawColorbars() {
  // PV bar with one block per level
  const yBar = d3.scaleLinear().domain([0, 11]).range([1111, 787]);
  pvColors.forEach(function(c, i) {
    svg.append("rect").attr("x", 1668).attr("width", 37).attr("y", yBar(i + 1)).attr("height", yBar(i) - yBar(i + 1)).attr("fill", c);
  });
  svg.append("rect").attr("x", 1668).attr("y", 787).attr("width", 37).attr("height", 324).attr("fill", "none").attr("stroke", "#333").attr("stroke-width", 2);
  drawAxis(d3.axisRight(yBar).tickValues([0, 2, 4, 6, 8, 10]).tickSize(8).tickPadding(6), 1705, "#222");
  richLabel(1806, 947, [["PV (10"], ["-6", "sup"], [" K m"], ["2", "sup"], [" kg"], ["-1", "sup"], [" s"], ["-1", "sup"], [")"]], "#222", 28);

  // counts bar
  const grad = defs.append("linearGradient").attr("id", "dnGrad").attr("x1", 0).attr("x2", 0).attr("y1", 1).attr("y2", 0);
  d3.range(0, 1.001, 0.05).forEach(function(f) {
    grad.append("stop").attr("offset", f).attr("stop-color", d3.interpolatePlasma(f));
  });
  const yLog = d3.scaleLog().domain([0.01, 100]).range([1472, 1147]);
  svg.append("rect").attr("x", 1668).attr("y", 1147).attr("width", 37).attr("height", 325).attr("fill", "url(#dnGrad)").attr("stroke", "#444").attr("stroke-width", 2);
  const minor = [];
  [-2, -1, 0, 1].forEach(function(e) { d3.range(2, 10).forEach(function(m) { minor.push(m * Math.pow(10, e)); }); });
  drawAxis(d3.axisRight(yLog).tickValues(minor).tickFormat("").tickSize(5), 1705, "#444");
  colorTicksLog.forEach(function(e) {
    const v = Math.pow(10, e), yy = yLog(v);
    svg.append("line").attr("x1", 1705).attr("x2", 1714).attr("y1", yy).attr("y2", yy).attr("stroke", "#333").attr("stroke-width", 1.5);
    const t = svg.append("text").attr("x", 1718).attr("y", yy + 14).attr("fill", "#222").style("font-size", "28px");
    t.append("tspan").text("10");
    t.append("tspan").attr("dy", -12).style("font-size", "19px").text(e < 0 ? "\u2212" + (-e) : e);
  });
  richLabel(1809, 1301, [["DN / dlog(D"], ["p", "sub"], [") (cm"], ["-3", "sup"], [")"]], "#222", 28);
}

function main() {
  drawBands();
  drawGrid();
  drawPanelA();
  drawPanelB();
  drawPanelC();
  drawPanelD();
  drawTitleBoxes();
  drawLegend();
  drawFrames();
  drawAxes();
  drawColorbars();
}

main();
</script>
</body>
</html>
